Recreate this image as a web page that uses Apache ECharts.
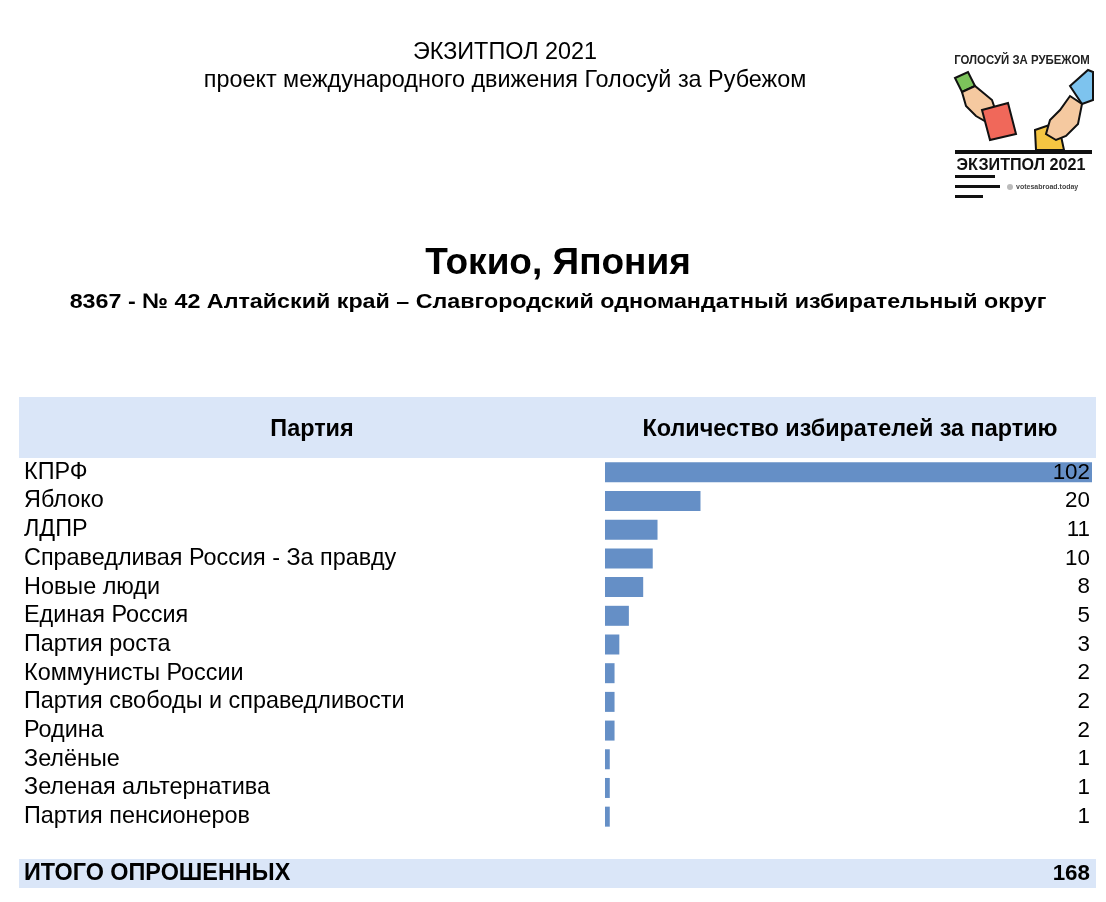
<!DOCTYPE html>
<html><head><meta charset="utf-8">
<script src="https://cdn.jsdelivr.net/npm/echarts@6/dist/echarts.min.js"></script>
<style>html,body{margin:0;padding:0;background:#fff}#c{width:1106px;height:902px}</style>
</head><body><div id="c"></div>
<script>
const parties = ["КПРФ","Яблоко","ЛДПР","Справедливая Россия - За правду","Новые люди","Единая Россия","Партия роста","Коммунисты России","Партия свободы и справедливости","Родина","Зелёные","Зеленая альтернатива","Партия пенсионеров"];
const votes = [102,20,11,10,8,5,3,2,2,2,1,1,1];
const totalLabel = "ИТОГО ОПРОШЕННЫХ";
const total = 168;
const headerLeft = "Партия";
const headerRight = "Количество избирателей за партию";

const FONT = '"Liberation Sans", Arial, sans-serif';
const chart = echarts.init(document.getElementById('c'), null, {renderer:'canvas'});
const band = '#dae6f8';
chart.setOption({
  backgroundColor:'#fff',
  animation:false,
  textStyle:{fontFamily:FONT},
  grid:{left:605, right:14, top:458, height:373, containLabel:false},
  xAxis:{type:'value', min:0, max:102, show:false},
  yAxis:[
    {type:'category', data:parties, inverse:true, axisLine:{show:false}, axisTick:{show:false},
     axisLabel:{interval:0, align:'left', margin:581, fontSize:23.4, color:'#000', fontFamily:FONT, padding:[3,0,0,0]}},
    {type:'category', data:parties, inverse:true, position:'right', z:10, axisLine:{show:false}, axisTick:{show:false},
     axisLabel:{interval:0, align:'right', margin:-2, fontSize:22.4, color:'#000', fontFamily:FONT, padding:[3,0,0,0],
       formatter:(v,i)=>String(votes[i])}}
  ],
  series:[{type:'bar', data:votes, barWidth:20, itemStyle:{color:'#658fc6'}, silent:true, z:2}],
  graphic:[
    {type:'rect', z:-10, shape:{x:19,y:397,width:1077,height:61}, style:{fill:band}},
    {type:'rect', z:-10, shape:{x:19,y:859,width:1077,height:29}, style:{fill:band}},
    {type:'text', x:505, y:53, style:{text:'ЭКЗИТПОЛ 2021', font:'23.4px '+FONT, fill:'#000', textAlign:'center', textVerticalAlign:'middle'}},
    {type:'text', x:505, y:81, style:{text:'проект международного движения Голосуй за Рубежом', font:'23.4px '+FONT, fill:'#000', textAlign:'center', textVerticalAlign:'middle'}},
    {type:'text', x:558, y:264, style:{text:'Токио, Япония', font:'bold 37px '+FONT, fill:'#000', textAlign:'center', textVerticalAlign:'middle'}},
    {type:'text', x:558, y:302, scaleX:1.108, style:{text:'8367 - № 42 Алтайский край – Славгородский одномандатный избирательный округ', font:'bold 21px '+FONT, fill:'#000', textAlign:'center', textVerticalAlign:'middle'}},
    {type:'text', x:312, y:430, style:{text:headerLeft, font:'bold 23.4px '+FONT, fill:'#000', textAlign:'center', textVerticalAlign:'middle'}},
    {type:'text', x:850, y:430, style:{text:headerRight, font:'bold 23.4px '+FONT, fill:'#000', textAlign:'center', textVerticalAlign:'middle'}},
    {type:'text', x:24, y:874, style:{text:totalLabel, font:'bold 23.4px '+FONT, fill:'#000', textAlign:'left', textVerticalAlign:'middle'}},
    {type:'text', x:1090, y:874, style:{text:String(total), font:'bold 22.4px '+FONT, fill:'#000', textAlign:'right', textVerticalAlign:'middle'}},
    // logo
    {type:'group', children:[
      {type:'text', x:1022, y:61, scaleX:0.95, style:{text:'ГОЛОСУЙ ЗА РУБЕЖОМ', font:'bold 12px '+FONT, fill:'#222', textAlign:'center', textVerticalAlign:'middle'}},
      {type:'polygon', shape:{points:[[955,78],[968,72],[975,86],[962,92]]}, style:{fill:'#7cc35b',stroke:'#111',lineWidth:2}},
      {type:'polygon', shape:{points:[[962,92],[975,86],[992,100],[998,118],[990,124],[976,116],[966,106]]}, style:{fill:'#f5c9a0',stroke:'#111',lineWidth:2}},
      {type:'polygon', shape:{points:[[982,110],[1008,103],[1016,134],[990,140]]}, style:{fill:'#f0685a',stroke:'#111',lineWidth:2}},
      {type:'polygon', shape:{points:[[1070,86],[1088,70],[1093,72],[1093,100],[1082,104]]}, style:{fill:'#7dc3ee',stroke:'#111',lineWidth:2}},
      {type:'polygon', shape:{points:[[1035,130],[1058,122],[1064,150],[1036,150]]}, style:{fill:'#f5c542',stroke:'#111',lineWidth:2}},
      {type:'polygon', shape:{points:[[1070,96],[1082,104],[1078,124],[1066,136],[1056,140],[1046,134],[1050,120],[1060,110]]}, style:{fill:'#f5c9a0',stroke:'#111',lineWidth:2}},
      {type:'rect', shape:{x:955,y:150,width:137,height:4}, style:{fill:'#111'}},
      {type:'text', x:1021, y:165, scaleX:0.95, style:{text:'ЭКЗИТПОЛ 2021', font:'bold 17px '+FONT, fill:'#111', textAlign:'center', textVerticalAlign:'middle'}},
      {type:'rect', shape:{x:955,y:175,width:40,height:3}, style:{fill:'#111'}},
      {type:'rect', shape:{x:955,y:185,width:45,height:3}, style:{fill:'#111'}},
      {type:'rect', shape:{x:955,y:195,width:28,height:3}, style:{fill:'#111'}},
      {type:'circle', shape:{cx:1010,cy:187,r:3}, style:{fill:'#bbb'}},
      {type:'text', x:1016, y:187, style:{text:'votesabroad.today', font:'bold 7px '+FONT, fill:'#444', textAlign:'left', textVerticalAlign:'middle'}}
    ]}
  ]
});
</script></body></html>
